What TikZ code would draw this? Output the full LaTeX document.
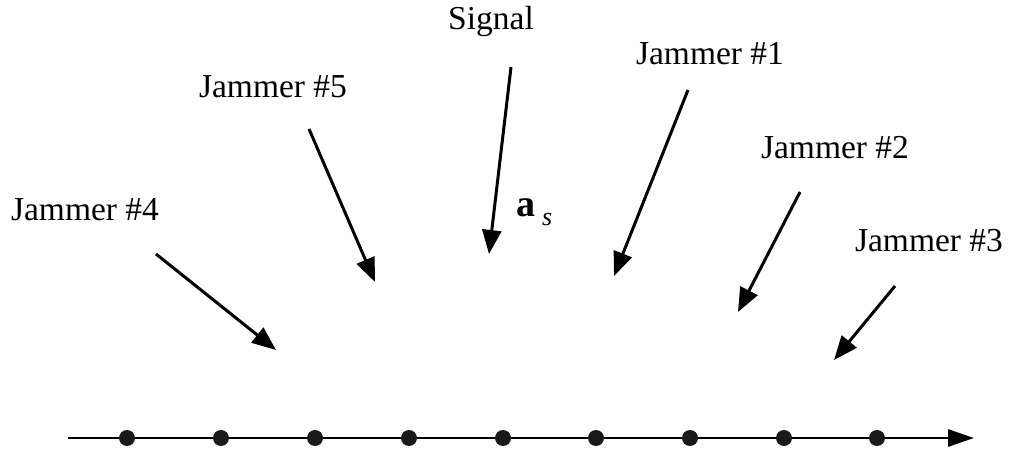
\documentclass[tikz,border=0pt]{standalone}
\usepackage{fontspec}
\setmainfont{Liberation Serif}
\usetikzlibrary{arrows.meta}
\begin{document}
\begin{tikzpicture}[x=1pt,y=-1pt,
  lbl/.style={font=\fontsize{33.5}{33.5}\selectfont, inner sep=0pt},
  ray/.style={line width=3pt, -{Triangle[length=24pt,width=19pt]}},
  elem/.style={circle, fill=black!90, inner sep=0pt, minimum size=16pt}]
\useasboundingbox (0,0) rectangle (1010,454);
% axis
\coordinate (ax0) at (68,438);
\coordinate (ax1) at (974,438);
\draw[line width=2.8pt, -{Triangle[length=26pt,width=17pt]}] (ax0) -- (ax1);
\foreach \i/\x in {1/127,2/221,3/315,4/409,5/503,6/596,7/690,8/784,9/877}
  \node[elem] (e\i) at (\x,438) {};
% labels
\node[lbl] (sig) at (491,21) {Signal};
\node[lbl] (j1) at (710,54) {Jammer \#1};
\node[lbl] (j2) at (835,148) {Jammer \#2};
\node[lbl] (j3) at (929,241) {Jammer \#3};
\node[lbl] (j4) at (85,210) {Jammer \#4};
\node[lbl] (j5) at (273,87) {Jammer \#5};
\node[lbl, anchor=west] (as) at (516,212) {\fontsize{38}{38}\selectfont\textbf{a}\hspace{7pt}\raisebox{-9pt}{\fontsize{26}{26}\selectfont\textit{s}}};
% arrows
\coordinate (s0) at (511,67);  \coordinate (s1) at (489,254);
\coordinate (a0) at (688,90);  \coordinate (a1) at (614,276);
\coordinate (b0) at (800,192); \coordinate (b1) at (738,312);
\coordinate (c0) at (895,286); \coordinate (c1) at (834,360);
\coordinate (d0) at (156,254); \coordinate (d1) at (276,350);
\coordinate (f0) at (309,129); \coordinate (f1) at (375,282);
\foreach \p in {s,a,b,c,d,f}
  \draw[ray] (\p0) -- (\p1);
\end{tikzpicture}
\end{document}
